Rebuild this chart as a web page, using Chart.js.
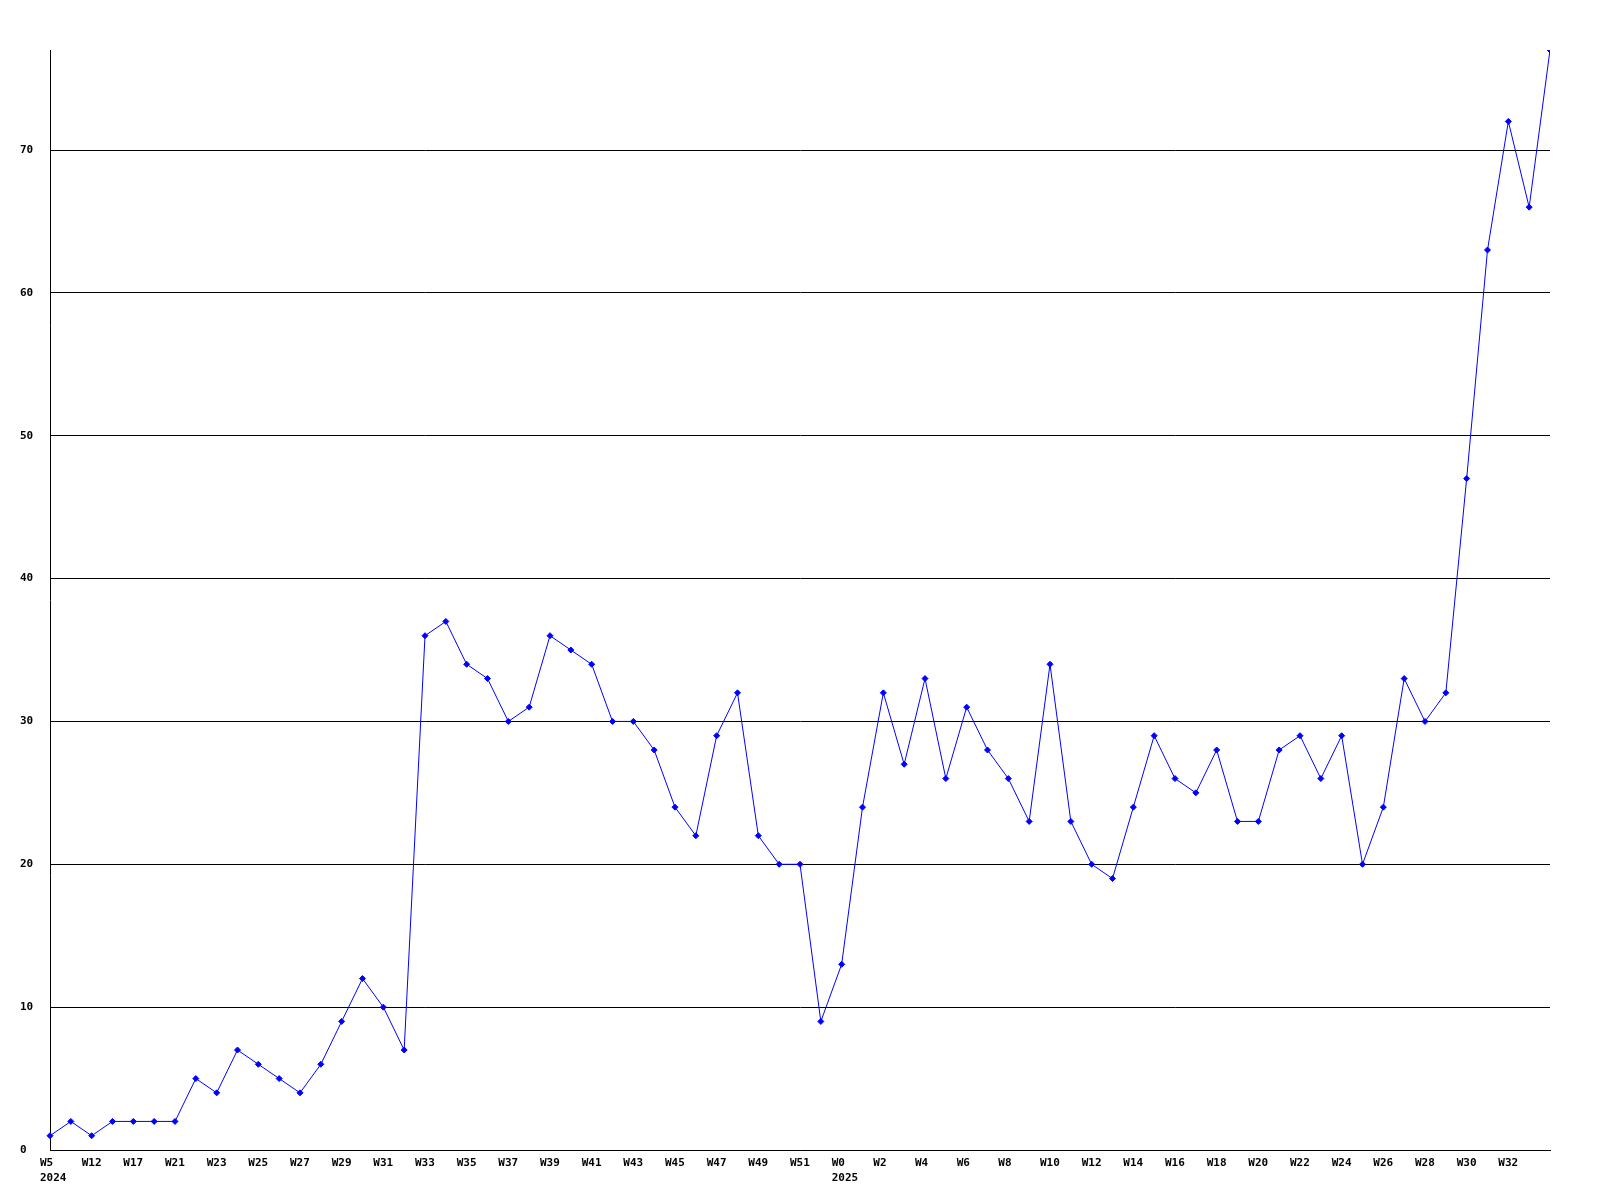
<!DOCTYPE html>
<html>
<head>
<meta charset="utf-8">
<script src="https://cdn.jsdelivr.net/npm/chart.js@4/dist/chart.umd.min.js"></script>
<style>
  html, body { margin: 0; padding: 0; background: #fff; }
  #chart { display: block; }
</style>
</head>
<body>
<canvas id="chart" width="1600" height="1200"></canvas>
<script>
// week categories, one per point (only every other one gets a label)
const weeks2024 = ['W5', 'W9', 'W12', 'W15', 'W17', 'W19',
  'W21', 'W22', 'W23', 'W24', 'W25', 'W26', 'W27', 'W28', 'W29', 'W30',
  'W31', 'W32', 'W33', 'W34', 'W35', 'W36', 'W37', 'W38', 'W39', 'W40',
  'W41', 'W42', 'W43', 'W44', 'W45', 'W46', 'W47', 'W48', 'W49', 'W50',
  'W51', 'W52'];
const weeks2025 = ['W0', 'W1', 'W2', 'W3', 'W4', 'W5', 'W6', 'W7', 'W8', 'W9',
  'W10', 'W11', 'W12', 'W13', 'W14', 'W15', 'W16', 'W17', 'W18', 'W19',
  'W20', 'W21', 'W22', 'W23', 'W24', 'W25', 'W26', 'W27', 'W28', 'W29',
  'W30', 'W31', 'W32', 'W33', 'W34'];
const years = ['2024', '2025'];

const counts = [1, 2, 1, 2, 2, 2, 2, 5, 4, 7, 6, 5, 4, 6, 9, 12, 10, 7,
  36, 37, 34, 33, 30, 31, 36, 35, 34, 30, 30, 28, 24, 22, 29, 32, 22, 20, 20,
  9, 13, 24, 32, 27, 33, 26, 31, 28, 26, 23, 34, 23, 20, 19, 24, 29, 26, 25,
  28, 23, 23, 28, 29, 26, 29, 20, 24, 33, 30, 32, 47, 63, 72, 66, 77];

const yTicks = [0, 10, 20, 30, 40, 50, 60, 70];

// first week of each year carries the year on a second line
const labels = [
  ...weeks2024.map((w, i) => i === 0 ? [w, years[0]] : w),
  ...weeks2025.map((w, i) => i === 0 ? [w, years[1]] : w),
];

const font = { family: '"DejaVu Sans Mono", "Liberation Mono", monospace', size: 11, weight: 'bold', lineHeight: 1.4 };

new Chart(document.getElementById('chart').getContext('2d'), {
  type: 'line',
  data: {
    labels,
    datasets: [{
      data: counts,
      borderColor: '#0000ff',
      borderWidth: 1,
      backgroundColor: '#0000ff',
      pointStyle: 'rectRot',
      pointRadius: 3,
      pointBorderWidth: 1,
      pointBorderColor: '#0000ff',
      pointBackgroundColor: '#0000ff',
      tension: 0,
      fill: false,
      clip: { left: 5, top: 0, right: 0, bottom: 5 },
    }],
  },
  options: {
    responsive: false,
    devicePixelRatio: 1,
    animation: false,
    layout: { padding: { left: 20, top: 50, right: 50, bottom: 0 } },
    plugins: { legend: { display: false }, tooltip: { enabled: false } },
    scales: {
      x: {
        z: 1,
        offset: false,
        grid: { display: false },
        border: { display: true, color: '#000', width: 1 },
        ticks: {
          autoSkip: false,
          maxRotation: 0,
          minRotation: 0,
          align: 'start',
          labelOffset: -10,
          padding: -3,
          color: '#000',
          font,
          callback(v, i) {
            return i % 2 === 0 && i < labels.length - 1 ? this.getLabelForValue(v) : '';
          },
        },
        afterFit(scale) { scale.height = 50; },
      },
      y: {
        z: 1,
        min: 0,
        max: Math.max(...counts),
        afterBuildTicks(scale) { scale.ticks = yTicks.map(value => ({ value })); },
        grid: { color: '#000', lineWidth: 1, drawTicks: false },
        border: { display: true, color: '#000', width: 1 },
        ticks: {
          crossAlign: 'far',
          color: '#000',
          font,
          padding: 0,
        },
        afterFit(scale) { scale.width = 30; },
      },
    },
  },
});
</script>
</body>
</html>
